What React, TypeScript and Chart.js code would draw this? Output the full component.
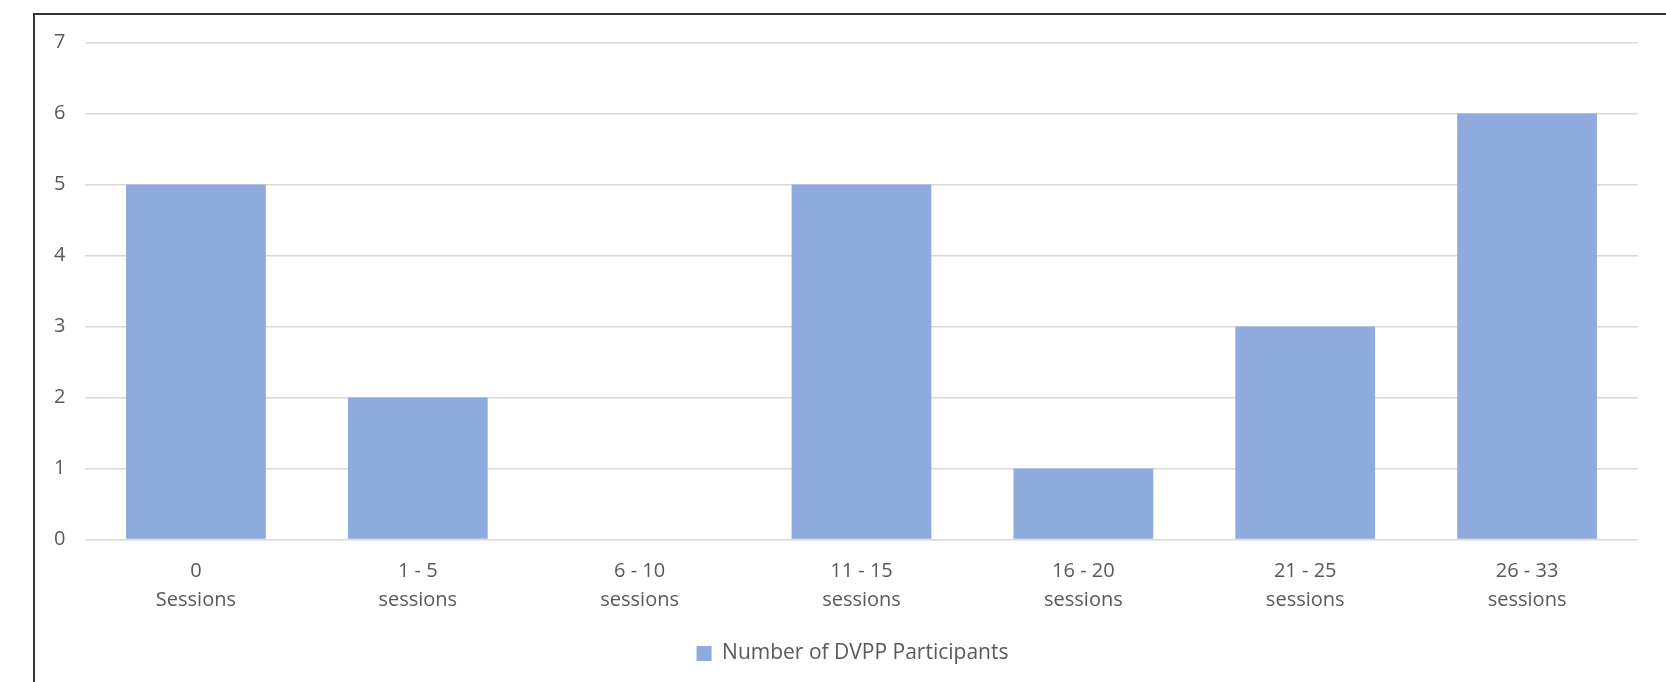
import React, { useEffect, useRef } from "react";
import { Chart, registerables } from "chart.js";

Chart.register(...registerables);

const categories: string[][] = [
  ["0", "Sessions"],
  ["1 - 5", "sessions"],
  ["6 - 10", "sessions"],
  ["11 - 15", "sessions"],
  ["16 - 20", "sessions"],
  ["21 - 25", "sessions"],
  ["26 - 33", "sessions"],
];
const participants: number[] = [5, 2, 0, 5, 1, 3, 6];
const seriesLabel = "Number of DVPP Participants";
const yMax = 7;

const FONT = "'Open Sans', 'Liberation Sans', sans-serif";
const TEXT = "#595959";

const shiftLegend = {
  id: "shiftLegend",
  afterLayout(chart: any) {
    if (chart.legend) {
      chart.legend.left += 6.5;
      chart.legend.right += 6.5;
    }
  },
};

export default function App() {
  const ref = useRef<HTMLCanvasElement | null>(null);
  useEffect(() => {
    if (!ref.current) return;
    const chart = new Chart(ref.current, {
      type: "bar",
      data: {
        labels: categories,
        datasets: [
          {
            label: seriesLabel,
            data: participants,
            backgroundColor: "#8FAADC",
            borderWidth: 0,
            barPercentage: 0.63,
            categoryPercentage: 1,
          },
        ],
      },
      options: {
        animation: false,
        responsive: false,
        devicePixelRatio: 1,
        layout: { padding: { top: 27.5, right: 28, left: 19, bottom: 8 } },
        plugins: {
          tooltip: { enabled: false },
          legend: {
            position: "bottom",
            labels: {
              boxWidth: 15,
              boxHeight: 15,
              padding: 19.5,
              color: TEXT,
              font: { family: FONT, size: 21 },
            },
          },
        },
        scales: {
          x: {
            grid: { display: false },
            border: { display: false },
            ticks: {
              color: TEXT,
              font: { family: FONT, size: 20, lineHeight: 1.45 },
              padding: 9,
              maxRotation: 0,
              autoSkip: false,
            },
          },
          y: {
            min: 0,
            max: yMax,
            afterFit: (s: any) => {
              s.width = 31;
            },
            grid: { color: "#d9d9d9", lineWidth: 1.6, drawTicks: false },
            border: { display: false },
            ticks: {
              stepSize: 1,
              color: TEXT,
              font: { family: FONT, size: 20 },
              padding: 0,
              crossAlign: "far",
            },
          },
        },
      },
      plugins: [shiftLegend],
    });
    return () => chart.destroy();
  }, []);
  return (
    <div
      style={{
        position: "absolute",
        left: 33,
        top: 13,
        width: 1633,
        height: 669,
        borderTop: "2px solid #333",
        borderLeft: "2px solid #333",
        boxSizing: "border-box",
        background: "#fff",
      }}
    >
      <canvas ref={ref} width={1631} height={667} style={{ display: "block" }} />
    </div>
  );
}
